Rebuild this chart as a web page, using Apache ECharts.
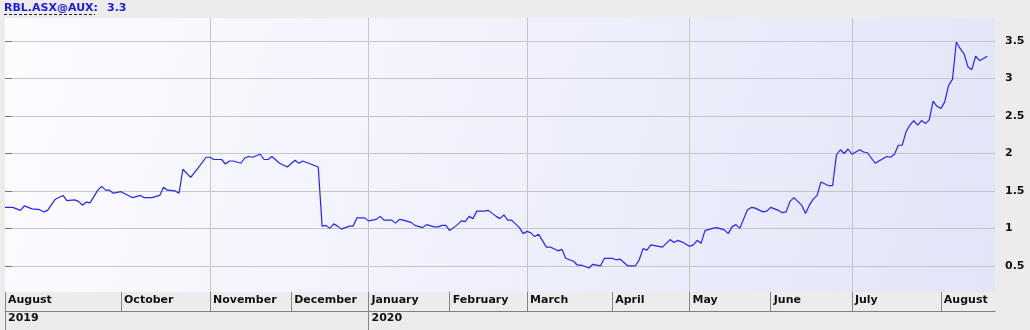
<!DOCTYPE html>
<html>
<head>
<meta charset="utf-8">
<script src="https://cdn.jsdelivr.net/npm/echarts@6/dist/echarts.min.js"></script>
<style>
  html, body { margin: 0; padding: 0; background: #ececec; }
  #c { width: 1030px; height: 330px; }
</style>
</head>
<body>
<div id="c"></div>
<script>
// Trading-day index (0 = 20 Aug 2019) and closing price
const days = [0,2,4,5,7,9,10,11,13,15,16,18,19,20,21,22,24,25,26,27,28,30,33,35,36,38,40,41,42,44,45,46,48,50,52,53,54,56,57,58,59,61,62,63,64,66,67,68,69,71,73,75,76,77,79,81,82,83,84,85,86,87,89,90,91,93,94,96,97,98,100,101,102,103,105,106,108,109,111,112,113,114,115,117,118,119,120,121,122,124,125,127,128,129,130,131,133,134,135,136,137,138,140,141,143,144,145,147,148,149,151,152,154,155,157,158,159,161,163,164,165,166,167,169,170,172,173,174,175,177,178,179,180,181,183,184,186,187,188,189,190,192,193,194,196,197,198,200,201,202,203,204,206,207,208,209,210,211,213,214,215,216,217,218,219,221,222,223,225,228,229,230,231,232,233,234,235,236,237,238,239,240,241,242,243,244,245,246,247,248,249,250,251,252,254];
const prices = [1.28,1.28,1.24,1.30,1.26,1.25,1.22,1.24,1.39,1.44,1.37,1.38,1.36,1.31,1.35,1.34,1.51,1.56,1.51,1.51,1.47,1.49,1.41,1.44,1.41,1.41,1.44,1.55,1.51,1.50,1.47,1.79,1.68,1.81,1.95,1.95,1.92,1.92,1.86,1.90,1.90,1.87,1.94,1.96,1.95,1.99,1.92,1.92,1.96,1.87,1.82,1.91,1.87,1.90,1.86,1.82,1.03,1.04,1.00,1.06,1.03,0.99,1.03,1.03,1.14,1.14,1.10,1.12,1.16,1.11,1.11,1.07,1.12,1.11,1.08,1.04,1.01,1.05,1.02,1.02,1.04,1.04,0.97,1.05,1.10,1.09,1.16,1.13,1.23,1.23,1.24,1.16,1.13,1.18,1.11,1.11,1.01,0.93,0.96,0.94,0.89,0.92,0.75,0.75,0.70,0.72,0.60,0.56,0.51,0.51,0.47,0.52,0.50,0.60,0.60,0.58,0.59,0.50,0.50,0.58,0.73,0.71,0.78,0.76,0.75,0.85,0.81,0.84,0.82,0.76,0.78,0.84,0.80,0.97,1.00,1.01,0.98,0.93,1.02,1.05,1.00,1.25,1.28,1.27,1.22,1.23,1.28,1.24,1.21,1.22,1.36,1.41,1.31,1.20,1.31,1.39,1.44,1.62,1.57,1.57,1.98,2.05,2.00,2.06,1.99,2.05,2.02,2.01,1.87,1.96,1.95,1.99,2.11,2.11,2.29,2.38,2.44,2.38,2.44,2.40,2.45,2.70,2.63,2.60,2.69,2.91,2.99,3.49,3.40,3.33,3.16,3.12,3.30,3.24,3.30];

// Axis definitions
const monthStarts = [0,30,53,74,94,115,135,157,177,198,219,242];
const monthNames = ['August','October','November','December','January','February','March','April','May','June','July','August'];
const monthSeparators = [0,30,53,74,94,115,135,157,177,198,219,242];
const yearStarts = [0,94];
const yearNames = ['2019','2020'];
const verticalGrid = [53,94,135,177,219];
const yTicks = [0.5,1,1.5,2,2.5,3,3.5];
const symbolName = 'RBL.ASX@AUX:';
const lastValue = '3.3';

const FONT = 'DejaVu Sans';
const chart = echarts.init(document.getElementById('c'));
const labelStyle = { fontFamily: FONT, fontWeight: 'bold', fontSize: 11, color: '#111' };

chart.setOption({
  animation: false,
  backgroundColor: '#ececec',
  textStyle: { fontFamily: FONT },
  grid: {
    left: 5, right: 35, top: 18, bottom: 38,
    show: true, borderWidth: 0,
    backgroundColor: new echarts.graphic.LinearGradient(0, 0, 1, 1, [
      { offset: 0, color: '#fcfcff' },
      { offset: 1, color: '#e2e5f8' }
    ])
  },
  graphic: [
    { type: 'text', left: 4, top: 3, style: { text: symbolName, font: 'bold 11px "DejaVu Sans"', fill: '#1a1ae8' } },
    { type: 'text', left: 107, top: 3, style: { text: lastValue, font: 'bold 11px "DejaVu Sans"', fill: '#1a1ae8' } },
    { type: 'line', shape: { x1: 4, y1: 14.5, x2: 95, y2: 14.5 }, style: { stroke: '#222', lineWidth: 1, lineDash: [3, 2] } }
  ],
  xAxis: [
    {
      type: 'value', min: 0, max: 256,
      axisLine: { show: false },
      axisLabel: { show: false },
      axisTick: { show: false, customValues: verticalGrid },
      splitLine: { show: true, lineStyle: { color: '#c6c6c6', width: 1 } }
    },
    {
      type: 'value', min: 0, max: 256, position: 'bottom', offset: 0,
      axisLine: { show: false },
      splitLine: { show: false },
      axisTick: { show: true, customValues: monthSeparators, length: 19, lineStyle: { color: '#858585' } },
      axisLabel: Object.assign({
        customValues: monthStarts,
        formatter: (v) => monthNames[monthStarts.indexOf(v)],
        align: 'left', padding: [0, 0, 0, 3], margin: 3
      }, labelStyle)
    },
    {
      type: 'value', min: 0, max: 256, position: 'bottom', offset: 19,
      axisLine: { show: true, lineStyle: { color: '#808080', width: 1 } },
      splitLine: { show: false },
      axisTick: { show: true, customValues: yearStarts, length: 19, lineStyle: { color: '#858585' } },
      axisLabel: Object.assign({
        customValues: yearStarts,
        formatter: (v) => yearNames[yearStarts.indexOf(v)],
        align: 'left', padding: [0, 0, 0, 3], margin: 2
      }, labelStyle)
    }
  ],
  yAxis: {
    type: 'value', position: 'right', min: 0.15, max: 3.81,
    axisLine: { show: false },
    axisTick: { show: true, customValues: yTicks, length: 7, lineStyle: { color: '#777' } },
    axisLabel: Object.assign({ customValues: yTicks, margin: 10 }, labelStyle),
    splitLine: { show: true, lineStyle: { color: '#c6c6c6', width: 1 } }
  },
  series: [{
    type: 'line',
    xAxisIndex: 0,
    data: days.map((d, i) => [d, prices[i]]),
    showSymbol: false,
    symbol: 'none',
    lineStyle: { color: '#2424ff', width: 1.2 },
    silent: true
  }]
});
</script>
</body>
</html>
